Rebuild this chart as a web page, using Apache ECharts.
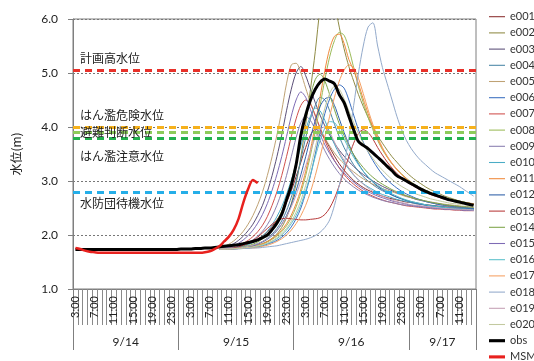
<!DOCTYPE html>
<html><head><meta charset="utf-8">
<script src="https://cdn.jsdelivr.net/npm/echarts@6/dist/echarts.min.js"></script>
<style>html,body{margin:0;padding:0;background:#fff}#c{width:534px;height:361px}</style>
</head><body><div id="c"></div>
<script>
// ---- categories (hourly) ----
const dayLabels = ['9/14', '9/15', '9/16', '9/17'];
const dayFirstHour = [3, 1, 1, 1];
const dayLastHour = [24, 24, 24, 14];
const dayBounds = [0, 22, 46, 70, 84];
const dayCenters = [11, 34, 58, 77];
const labelHours = [3, 7, 11, 15, 19, 23];

const categories = [];
for (let d = 0; d < dayLabels.length; d++) {
  for (let h = dayFirstHour[d]; h <= dayLastHour[d]; h++) categories.push(dayLabels[d] + ' ' + h + ':00');
}

// ---- observed & MSM ----
const obs = [
 1.73,1.73,1.73,1.73,1.73,1.73,1.73,1.73,1.73,1.73,1.73,1.73,1.73,1.73,1.73,1.73,1.73,1.73,1.73,1.73,1.73,1.73,
 1.74,1.74,1.74,1.75,1.75,1.76,1.76,1.77,1.78,1.79,1.80,1.81,1.82,1.84,1.86,1.88,1.91,1.95,2.00,2.10,2.22,2.38,2.65,2.92,
 3.30,3.85,4.22,4.50,4.70,4.83,4.89,4.85,4.80,4.60,4.45,4.20,3.95,3.73,3.66,3.60,3.52,3.44,3.36,3.27,3.19,3.10,3.05,3.00,
 2.95,2.90,2.85,2.81,2.77,2.74,2.71,2.68,2.65,2.63,2.61,2.59,2.57,2.55
];
const msm = [
 1.76,1.74,1.71,1.69,1.68,1.67,1.67,1.67,1.67,1.67,1.67,1.67,1.67,1.67,1.67,1.67,1.67,1.67,1.67,1.67,1.67,1.67,
 1.67,1.67,1.67,1.67,1.67,1.68,1.70,1.74,1.79,1.88,1.97,2.10,2.30,2.60,2.85,3.02,2.96
];

// ---- ensemble members (start 9/15 9:00 = index 30) ----
const ensStart = 30;
const e001 = [1.74,1.74,1.75,1.76,1.78,1.80, 1.83,1.87,1.92,1.98,2.06,2.16, 2.28,2.42,2.60,2.82,3.08,3.35, 3.62,3.85,3.96,3.90,3.78,3.62, 3.46,3.32,3.20,3.10,3.01,2.94, 2.88,2.83,2.79,2.75,2.72,2.69, 2.67,2.65,2.63,2.61,2.60,2.58, 2.57,2.56,2.55,2.54,2.53,2.52, 2.52,2.51,2.50,2.50,2.49,2.49];
const e002 = [1.74,1.74,1.74,1.75,1.75,1.76, 1.77,1.79,1.81,1.84,1.88,1.94, 2.02,2.14,2.32,2.58,2.95,3.45, 4.05,4.70,5.40,6.20,6.70,6.60, 6.30,5.85,5.45,5.12,4.85,4.60, 4.38,4.18,4.00,3.84,3.70,3.57, 3.45,3.35,3.25,3.16,3.08,3.01, 2.95,2.89,2.84,2.80,2.76,2.72, 2.69,2.66,2.63,2.61,2.59,2.57];
const e003 = [1.75,1.77,1.80,1.84,1.90,1.98, 2.08,2.20,2.36,2.55,2.80,3.10, 3.45,3.85,4.30,4.70,5.00,5.12, 4.95,4.70,4.45,4.22,4.02,3.85, 3.70,3.57,3.46,3.36,3.27,3.19, 3.12,3.06,3.00,2.95,2.90,2.86, 2.82,2.78,2.75,2.72,2.69,2.66, 2.64,2.62,2.60,2.58,2.56,2.55, 2.54,2.53,2.52,2.51,2.50,2.49];
const e004 = [1.74,1.74,1.75,1.75,1.76,1.77, 1.79,1.81,1.84,1.88,1.94,2.02, 2.12,2.26,2.45,2.70,3.00,3.40, 3.80,4.15,4.40,4.55,4.50,4.30, 4.05,3.82,3.62,3.45,3.30,3.18, 3.08,3.00,2.93,2.87,2.82,2.78, 2.74,2.70,2.67,2.64,2.62,2.60, 2.58,2.56,2.55,2.54,2.53,2.52, 2.51,2.50,2.50,2.49,2.49,2.48];
const e005 = [1.76,1.79,1.83,1.89,1.97,2.07, 2.20,2.36,2.56,2.80,3.10,3.45, 3.85,4.30,4.80,5.15,5.18,5.00, 4.72,4.45,4.20,3.98,3.80,3.65, 3.52,3.41,3.32,3.24,3.17,3.10, 3.04,2.99,2.94,2.90,2.86,2.83, 2.80,2.77,2.74,2.71,2.69,2.67, 2.65,2.63,2.61,2.60,2.58,2.57, 2.56,2.55,2.54,2.53,2.52,2.51];
const e006 = [1.74,1.74,1.74,1.74,1.75,1.75, 1.76,1.77,1.78,1.80,1.83,1.86, 1.90,1.96,2.04,2.15,2.30,2.50, 2.78,3.10,3.50,3.90,4.25,4.52, 4.70,4.78,4.72,4.50,4.22,3.95, 3.72,3.54,3.38,3.24,3.12,3.02, 2.94,2.87,2.81,2.76,2.72,2.68, 2.65,2.62,2.60,2.58,2.56,2.55, 2.54,2.53,2.52,2.51,2.50,2.49];
const e007 = [1.74,1.75,1.76,1.78,1.81,1.85, 1.90,1.97,2.06,2.18,2.34,2.55, 2.80,3.10,3.45,3.82,4.15,4.40, 4.50,4.42,4.22,3.98,3.75,3.55, 3.38,3.24,3.12,3.02,2.94,2.87, 2.81,2.76,2.72,2.68,2.65,2.62, 2.60,2.58,2.56,2.54,2.53,2.52, 2.51,2.50,2.49,2.48,2.48,2.47, 2.47,2.46,2.46,2.45,2.45,2.45];
const e008 = [1.74,1.74,1.74,1.75,1.75,1.76, 1.77,1.78,1.80,1.83,1.87,1.92, 1.98,2.06,2.17,2.32,2.52,2.78, 3.10,3.48,3.92,4.40,4.88,5.30, 5.60,5.75,5.70,5.45,5.10,4.75, 4.45,4.18,3.95,3.75,3.58,3.44, 3.32,3.22,3.13,3.05,2.98,2.92, 2.87,2.83,2.79,2.75,2.72,2.69, 2.67,2.65,2.63,2.61,2.59,2.58];
const e009 = [1.74,1.75,1.76,1.77,1.79,1.82, 1.86,1.91,1.98,2.07,2.19,2.35, 2.55,2.80,3.10,3.45,3.80,4.08, 4.20,4.12,3.95,3.75,3.56,3.40, 3.26,3.14,3.04,2.96,2.89,2.83, 2.78,2.74,2.70,2.67,2.64,2.62, 2.60,2.58,2.56,2.55,2.54,2.53, 2.52,2.51,2.50,2.49,2.49,2.48, 2.48,2.47,2.47,2.46,2.46,2.46];
const e010 = [1.74,1.74,1.75,1.76,1.77,1.79, 1.82,1.86,1.91,1.98,2.07,2.19, 2.34,2.52,2.75,3.02,3.32,3.65, 3.95,4.20,4.35,4.30,4.12,3.90, 3.68,3.50,3.35,3.22,3.11,3.02, 2.95,2.89,2.84,2.79,2.75,2.72, 2.69,2.66,2.64,2.62,2.60,2.58, 2.57,2.55,2.54,2.53,2.52,2.51, 2.50,2.50,2.49,2.48,2.48,2.47];
const e011 = [1.74,1.74,1.74,1.75,1.75,1.76, 1.77,1.79,1.81,1.84,1.88,1.93, 2.00,2.09,2.21,2.37,2.58,2.85, 3.18,3.58,4.05,4.55,5.05,5.45, 5.68,5.72,5.55,5.25,5.05,4.80, 4.52,4.25,4.00,3.78,3.60,3.45, 3.32,3.21,3.12,3.04,2.97,2.91, 2.86,2.81,2.77,2.74,2.71,2.68, 2.66,2.64,2.62,2.60,2.59,2.58];
const e012 = [1.74,1.74,1.74,1.75,1.76,1.77, 1.78,1.80,1.83,1.87,1.92,1.99, 2.08,2.20,2.36,2.56,2.82,3.12, 3.45,3.80,4.12,4.38,4.52,4.55, 4.40,4.15,3.90,3.68,3.48,3.32, 3.18,3.07,2.98,2.90,2.84,2.79, 2.74,2.70,2.67,2.64,2.61,2.59, 2.57,2.55,2.54,2.53,2.52,2.51, 2.50,2.49,2.49,2.48,2.48,2.47];
const e013 = [1.74,1.74,1.75,1.76,1.78,1.81, 1.85,1.90,1.96,2.04,2.12,2.20, 2.26,2.30,2.31,2.30,2.29,2.28, 2.28,2.29,2.30,2.32,2.38,2.50, 2.68,2.92,3.18,3.45,3.70,3.88, 3.95,3.90,3.78,3.62,3.48,3.35, 3.24,3.14,3.06,2.99,2.93,2.88, 2.83,2.79,2.75,2.72,2.69,2.66, 2.64,2.62,2.60,2.58,2.57,2.56];
const e014 = [1.74,1.74,1.75,1.75,1.76,1.78, 1.80,1.83,1.87,1.93,2.01,2.12, 2.26,2.44,2.68,2.98,3.35,3.78, 4.20,4.58,4.88,4.98,4.85,4.60, 4.32,4.06,3.84,3.65,3.49,3.36, 3.25,3.15,3.07,3.00,2.94,2.89, 2.84,2.80,2.76,2.73,2.70,2.67, 2.65,2.63,2.61,2.59,2.58,2.56, 2.55,2.54,2.53,2.52,2.52,2.51];
const e015 = [1.75,1.76,1.78,1.81,1.85,1.91, 1.99,2.09,2.22,2.38,2.58,2.83, 3.12,3.45,3.82,4.20,4.50,4.65, 4.55,4.32,4.08,3.86,3.67,3.51, 3.37,3.25,3.15,3.06,2.98,2.91, 2.85,2.80,2.76,2.72,2.69,2.66, 2.63,2.61,2.59,2.57,2.55,2.54, 2.53,2.52,2.51,2.50,2.49,2.48, 2.48,2.47,2.47,2.46,2.46,2.45];
const e016 = [1.74,1.74,1.74,1.74,1.75,1.75, 1.76,1.77,1.79,1.81,1.84,1.88, 1.93,2.00,2.09,2.21,2.36,2.56, 2.82,3.12,3.45,3.75,3.98,4.10, 4.08,3.95,3.78,3.60,3.44,3.30, 3.18,3.08,2.99,2.92,2.86,2.81, 2.76,2.72,2.68,2.65,2.62,2.60, 2.58,2.56,2.54,2.53,2.52,2.51, 2.50,2.49,2.48,2.48,2.47,2.47];
const e017 = [1.74,1.74,1.74,1.74,1.75,1.75, 1.76,1.76,1.77,1.79,1.81,1.84, 1.88,1.93,2.00,2.09,2.21,2.36, 2.55,2.80,3.10,3.45,3.82,4.20, 4.55,4.85,5.05,5.15,5.10,4.90, 4.62,4.32,4.05,3.82,3.62,3.46, 3.33,3.22,3.12,3.04,2.97,2.91, 2.86,2.82,2.78,2.74,2.71,2.68, 2.66,2.64,2.62,2.60,2.58,2.57];
const e018 = [1.74,1.74,1.74,1.74,1.74,1.75, 1.75,1.76,1.76,1.77,1.78,1.79, 1.80,1.82,1.84,1.86,1.88,1.90, 1.92,1.95,1.99,2.05,2.14,2.28, 2.55,2.92,3.30,3.80,4.40,5.00, 5.50,5.85,5.93,5.50,5.10,4.80, 4.50,4.20,3.95,3.75,3.60,3.48, 3.38,3.30,3.22,3.15,3.10,3.05, 3.00,2.95,2.90,2.84,2.78,2.72];
const e019 = [1.74,1.74,1.75,1.75,1.76,1.77, 1.79,1.81,1.84,1.88,1.93,2.00, 2.09,2.20,2.34,2.52,2.74,3.00, 3.28,3.56,3.80,3.96,4.00,3.90, 3.72,3.54,3.38,3.24,3.12,3.02, 2.94,2.87,2.81,2.76,2.72,2.68, 2.65,2.62,2.60,2.58,2.56,2.55, 2.54,2.53,2.52,2.51,2.50,2.49, 2.49,2.48,2.48,2.47,2.47,2.46];
const e020 = [1.74,1.74,1.74,1.75,1.75,1.76, 1.77,1.78,1.80,1.82,1.85,1.89, 1.95,2.02,2.12,2.25,2.42,2.64, 2.92,3.25,3.62,4.00,4.35,4.62, 4.75,4.70,4.52,4.30,4.08,3.88, 3.70,3.55,3.42,3.30,3.20,3.11, 3.03,2.96,2.90,2.85,2.80,2.76, 2.73,2.70,2.67,2.65,2.63,2.61, 2.59,2.58,2.57,2.56,2.55,2.54];

const members = [e001,e002,e003,e004,e005,e006,e007,e008,e009,e010,e011,e012,e013,e014,e015,e016,e017,e018,e019,e020];
const memberNames = ['e001','e002','e003','e004','e005','e006','e007','e008','e009','e010','e011','e012','e013','e014','e015','e016','e017','e018','e019','e020'];
const memberColors = ['#8B2F2F','#8F8B45','#5B4F78','#4A86A6','#BFA274','#3B6FC0','#D0504D','#9BBB59','#8A7FB0','#4BACC6','#F08A3C','#2E5FA8','#B83A3A','#7FA54A','#7E6BB5','#5BC0CB','#F5A062','#93AACB','#C5A0B5','#C3C9A0'];

// ---- threshold levels ----
const levelNames = ['計画高水位','はん濫危険水位','避難判断水位','はん濫注意水位','水防団待機水位'];
const levelValues = [5.06, 4.0, 3.9, 3.8, 2.8];
const levelColors = ['#E8312A','#F6B11C','#8DCB5A','#22B04E','#25AEE8'];
const levelLabelPos = ['insideStartTop','insideStartTop','insideStart','insideStartBottom','insideStartBottom'];
const levelLabelDist = [[7,5],[7,6],[7,0],[7,13],[7,6]];

const yTicks = [1, 2, 3, 4, 5, 6];

const font = 'Lato, "Noto Sans CJK JP", sans-serif';
const jpFont = '"Noto Sans CJK JP", sans-serif';
const thinIcon = 'path://M0,0L18,0L18,1.2L0,1.2Z';
const thickIcon = 'path://M0,0L18,0L18,3.5L0,3.5Z';

function pad(arr) {
  const out = new Array(categories.length).fill(null);
  for (let i = 0; i < arr.length; i++) out[ensStart + i] = arr[i];
  return out;
}

const series = [];
members.forEach((m, k) => {
  series.push({
    name: memberNames[k], type: 'line', data: pad(m), smooth: 0.3, symbol: 'none',
    lineStyle: { width: 1, color: memberColors[k] }, itemStyle: { color: memberColors[k] },
    z: 2, clip: true, connectNulls: false
  });
});
series.push({
  name: 'levels', type: 'line', data: [], symbol: 'none', silent: true,
  markLine: {
    silent: true, symbol: ['none', 'none'], animation: false,
    data: levelValues.map((v, k) => ({
      yAxis: v,
      lineStyle: { color: levelColors[k], width: 3, type: [7, 5] },
      label: {
        show: true, formatter: levelNames[k], position: levelLabelPos[k],
        distance: levelLabelDist[k], color: '#222', fontSize: 12, fontFamily: jpFont
      }
    }))
  }
});
series.push({
  name: 'obs', type: 'line', data: obs, smooth: 0.3, symbol: 'none',
  lineStyle: { width: 3, color: '#000' }, itemStyle: { color: '#000' }, z: 7
});
series.push({
  name: 'MSM', type: 'line', data: msm, smooth: 0.3, symbol: 'none',
  lineStyle: { width: 2.5, color: '#E8211E' }, itemStyle: { color: '#E8211E' }, z: 8
});

const legendData = memberNames.map(n => ({ name: n, icon: thinIcon }))
  .concat([{ name: 'obs', icon: thickIcon }, { name: 'MSM', icon: thickIcon }]);

const chart = echarts.init(document.getElementById('c'), null, { renderer: 'canvas' });
chart.setOption({
  animation: false,
  backgroundColor: '#fff',
  grid: { left: 73, right: 58, top: 19, bottom: 72, show: true, borderColor: '#7f7f7f', borderWidth: 1, backgroundColor: 'transparent' },
  legend: {
    data: legendData, orient: 'vertical', left: 489, top: 10.7, height: 360, width: 60,
    itemWidth: 16, itemHeight: 12, itemGap: 4.2, padding: 0,
    textStyle: { fontSize: 11, lineHeight: 12, color: '#333', fontFamily: font },
    selectedMode: false
  },
  xAxis: [{
    type: 'category', data: categories, boundaryGap: true, position: 'bottom',
    axisLine: { show: true, lineStyle: { color: '#7f7f7f', width: 1 } },
    axisTick: { show: true, interval: 0, length: 36, lineStyle: { color: '#8a8a8a', width: 1 } },
    axisLabel: {
      interval: (idx, val) => labelHours.indexOf(parseInt(val.split(' ')[1], 10)) >= 0,
      formatter: (val) => val.split(' ')[1],
      rotate: 90, margin: 7, fontSize: 11, color: '#222', fontFamily: font
    },
    splitLine: { show: false }
  }, {
    type: 'value', min: dayBounds[0], max: dayBounds[dayBounds.length - 1], position: 'bottom',
    axisLine: { show: false },
    axisTick: { show: true, customValues: dayBounds, length: 61, lineStyle: { color: '#7f7f7f', width: 1 } },
    axisLabel: {
      customValues: dayCenters, formatter: (v) => dayLabels[dayCenters.indexOf(v)] || '',
      margin: 47, fontSize: 12, color: '#222', fontFamily: font
    },
    splitLine: { show: false }
  }],
  yAxis: {
    type: 'value', min: yTicks[0], max: yTicks[yTicks.length - 1], interval: 1,
    name: '水位(m)', nameLocation: 'middle', nameGap: 51,
    nameTextStyle: { fontSize: 12, color: '#222', fontFamily: jpFont },
    axisLine: { show: true, lineStyle: { color: '#7f7f7f' } },
    axisTick: { show: true, length: 5, lineStyle: { color: '#7f7f7f' } },
    axisLabel: { formatter: (v) => v.toFixed(1), margin: 15, fontSize: 12, color: '#222', fontFamily: font },
    splitLine: { show: true, lineStyle: { type: [2, 2], color: '#777', width: 1 } }
  },
  series: series
});
</script>
</body></html>
